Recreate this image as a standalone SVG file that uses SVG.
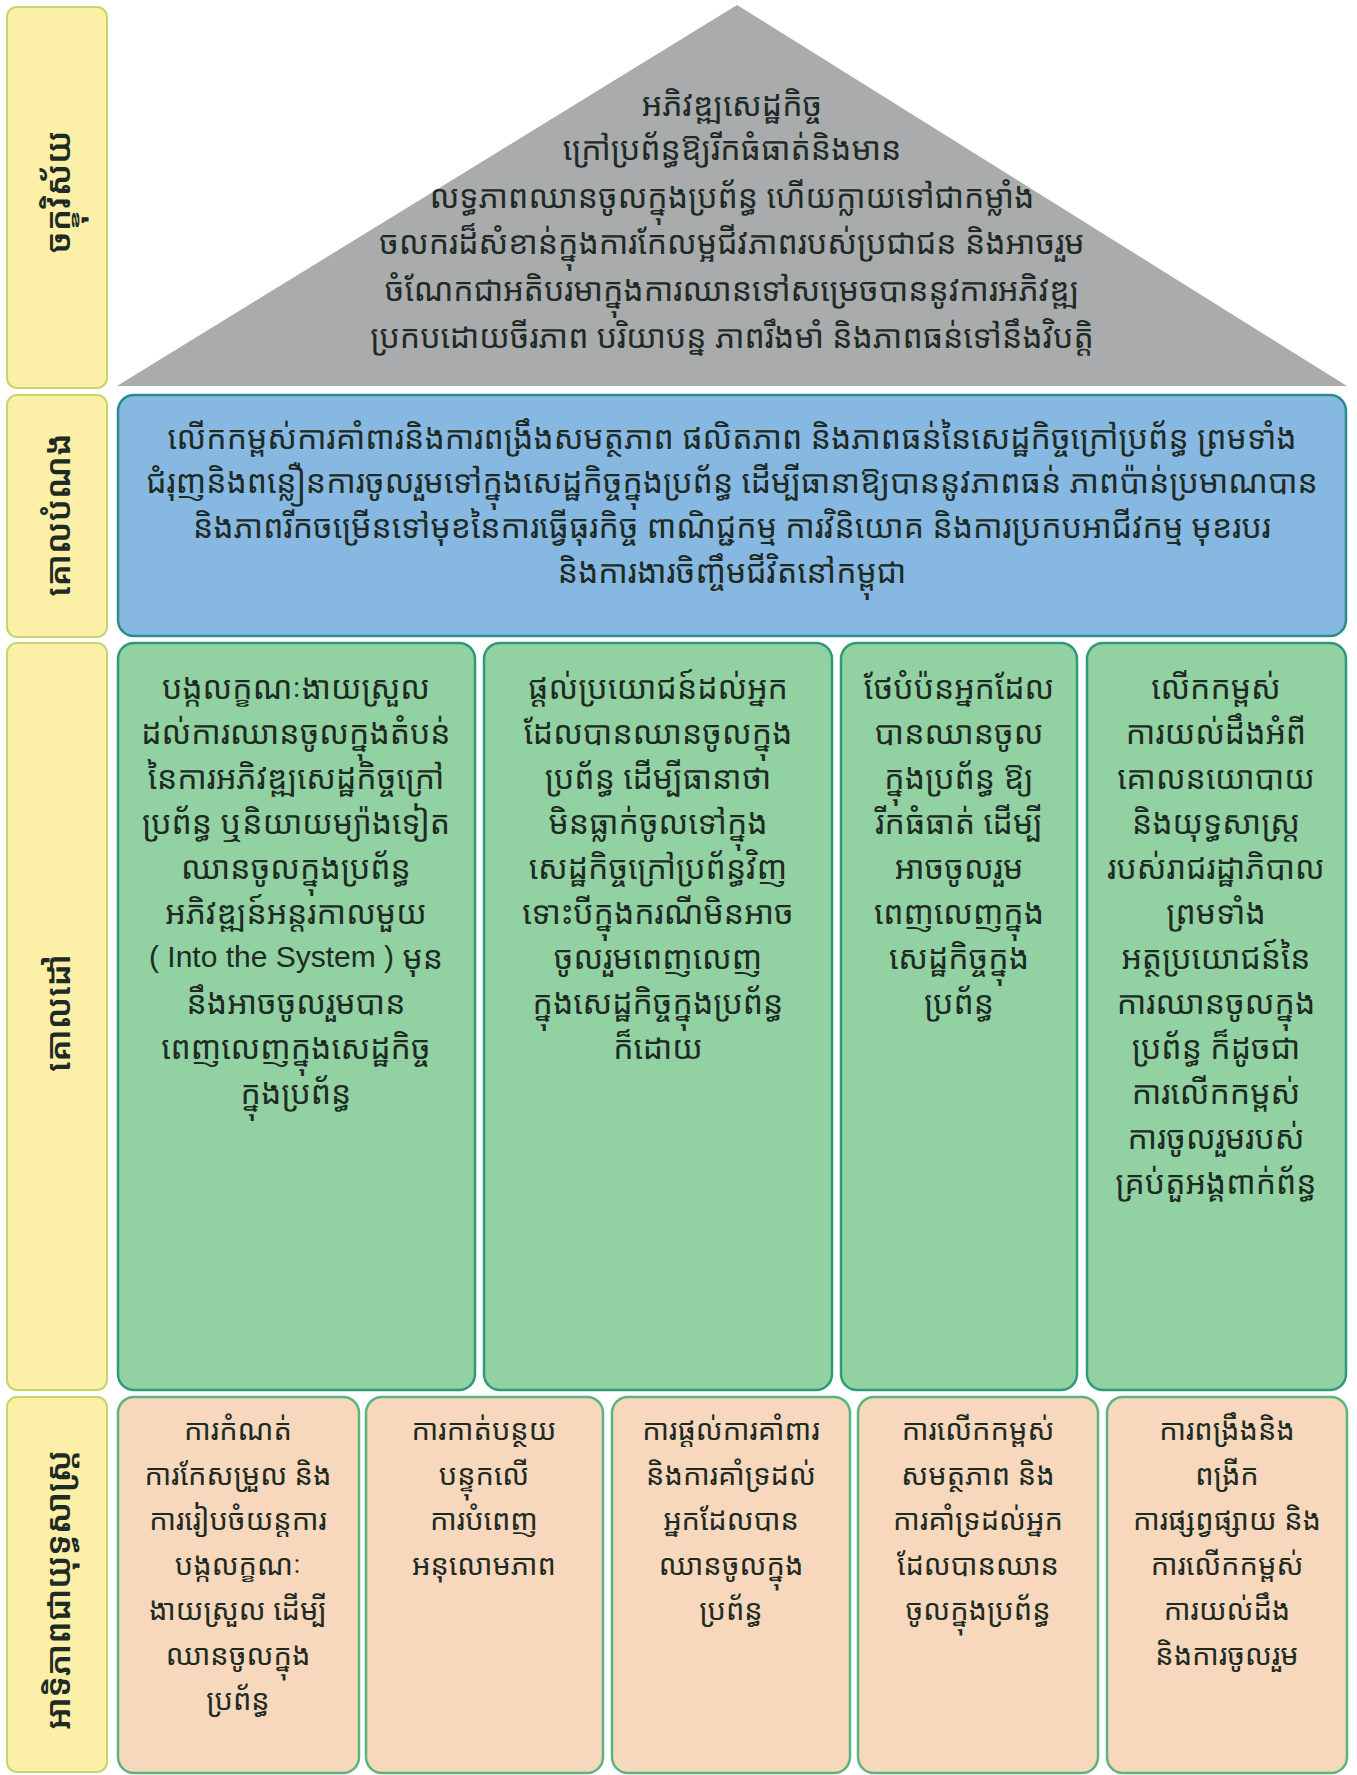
<svg xmlns="http://www.w3.org/2000/svg" width="1357" height="1775" viewBox="0 0 1357 1775">
<style>
.t{font-family:"Noto Sans Khmer","Noto Serif Khmer","Khmer OS","Khmer OS System","Noto Sans",sans-serif;fill:#1e2a24;text-anchor:middle;dominant-baseline:central}
.m{font-size:32px}
.b{font-size:32px}
.g{font-size:32px}
.o{font-size:29px}
.l{font-size:34px;font-weight:600}
.lat{font-family:"Liberation Sans",Arial,sans-serif;font-size:30px}
.lab{fill:#fcefa8;stroke:#c5d66a;stroke-width:2}
.blue{fill:#86b8e2;stroke:#2a8c8c;stroke-width:2.5}
.grn{fill:#92d2a2;stroke:#2f9a78;stroke-width:2.5}
.org{fill:#f8d8bd;stroke:#5ab47c;stroke-width:2.5}
</style>
<rect width="1357" height="1775" fill="#ffffff"/>
<g id="label-vision">
<rect class="lab" x="7" y="7" width="100" height="381" rx="10"/>
<text class="t l" transform="translate(57,192) rotate(-90)">ចក្ខុវិស័យ</text>
</g>
<g id="label-objective">
<rect class="lab" x="7" y="395" width="100" height="242" rx="10"/>
<text class="t l" transform="translate(57,515) rotate(-90)">គោលបំណង</text>
</g>
<g id="label-goals">
<rect class="lab" x="7" y="643" width="100" height="747" rx="10"/>
<text class="t l" transform="translate(57,1013) rotate(-90)">គោលដៅ</text>
</g>
<g id="label-priorities">
<rect class="lab" x="7" y="1397" width="100" height="375" rx="10"/>
<text class="t l" transform="translate(57,1590) rotate(-90)">អាទិភាពជាយុទ្ធសាស្ត្រ</text>
</g>
<g id="vision">
<polygon points="737,5 1347,386 117,386" fill="#a9abad"/>
<text class="t m" x="732" y="103">អភិវឌ្ឍសេដ្ឋកិច្ច</text>
<text class="t m" x="732" y="147">ក្រៅប្រព័ន្ធឱ្យរីកធំធាត់និងមាន</text>
<text class="t m" x="732" y="195">លទ្ធភាពឈានចូលក្នុងប្រព័ន្ធ ហើយក្លាយទៅជាកម្លាំង</text>
<text class="t m" x="732" y="241">ចលករដ៏សំខាន់ក្នុងការកែលម្អជីវភាពរបស់ប្រជាជន និងអាចរួម</text>
<text class="t m" x="732" y="288">ចំណែកជាអតិបរមាក្នុងការឈានទៅសម្រេចបាននូវការអភិវឌ្ឍ</text>
<text class="t m" x="732" y="335">ប្រកបដោយចីរភាព បរិយាបន្ន ភាពរឹងមាំ និងភាពធន់ទៅនឹងវិបត្តិ</text>
</g>
<g id="objective">
<rect class="blue" x="118" y="395" width="1228" height="241" rx="16"/>
<text class="t b" x="732" y="436">លើកកម្ពស់ការគាំពារនិងការពង្រឹងសមត្ថភាព ផលិតភាព និងភាពធន់នៃសេដ្ឋកិច្ចក្រៅប្រព័ន្ធ ព្រមទាំង</text>
<text class="t b" x="732" y="480">ជំរុញនិងពន្លឿនការចូលរួមទៅក្នុងសេដ្ឋកិច្ចក្នុងប្រព័ន្ធ ដើម្បីធានាឱ្យបាននូវភាពធន់ ភាពប៉ាន់ប្រមាណបាន</text>
<text class="t b" x="732" y="525">និងភាពរីកចម្រើនទៅមុខនៃការធ្វើធុរកិច្ច ពាណិជ្ជកម្ម ការវិនិយោគ និងការប្រកបអាជីវកម្ម មុខរបរ</text>
<text class="t b" x="732" y="570">និងការងារចិញ្ចឹមជីវិតនៅកម្ពុជា</text>
</g>
<g id="goal-1">
<rect class="grn" x="118" y="643" width="357" height="747" rx="16"/>
<text class="t g" x="296" y="686">បង្កលក្ខណៈងាយស្រួល</text>
<text class="t g" x="296" y="731">ដល់ការឈានចូលក្នុងតំបន់</text>
<text class="t g" x="296" y="776">នៃការអភិវឌ្ឍសេដ្ឋកិច្ចក្រៅ</text>
<text class="t g" x="296" y="821">ប្រព័ន្ធ ឬនិយាយម្យ៉ាងទៀត</text>
<text class="t g" x="296" y="866">ឈានចូលក្នុងប្រព័ន្ធ</text>
<text class="t g" x="296" y="911">អភិវឌ្ឍន៍អន្តរកាលមួយ</text>
<text class="t g" x="296" y="956"><tspan class="lat">( Into the System )</tspan> មុន</text>
<text class="t g" x="296" y="1001">នឹងអាចចូលរួមបាន</text>
<text class="t g" x="296" y="1046">ពេញលេញក្នុងសេដ្ឋកិច្ច</text>
<text class="t g" x="296" y="1091">ក្នុងប្រព័ន្ធ</text>
</g>
<g id="goal-2">
<rect class="grn" x="484" y="643" width="348" height="747" rx="16"/>
<text class="t g" x="658" y="686">ផ្ដល់ប្រយោជន៍ដល់អ្នក</text>
<text class="t g" x="658" y="731">ដែលបានឈានចូលក្នុង</text>
<text class="t g" x="658" y="776">ប្រព័ន្ធ ដើម្បីធានាថា</text>
<text class="t g" x="658" y="821">មិនធ្លាក់ចូលទៅក្នុង</text>
<text class="t g" x="658" y="866">សេដ្ឋកិច្ចក្រៅប្រព័ន្ធវិញ</text>
<text class="t g" x="658" y="911">ទោះបីក្នុងករណីមិនអាច</text>
<text class="t g" x="658" y="956">ចូលរួមពេញលេញ</text>
<text class="t g" x="658" y="1001">ក្នុងសេដ្ឋកិច្ចក្នុងប្រព័ន្ធ</text>
<text class="t g" x="658" y="1046">ក៏ដោយ</text>
</g>
<g id="goal-3">
<rect class="grn" x="841" y="643" width="236" height="747" rx="16"/>
<text class="t g" x="959" y="686">ថែបំប៉នអ្នកដែល</text>
<text class="t g" x="959" y="731">បានឈានចូល</text>
<text class="t g" x="959" y="776">ក្នុងប្រព័ន្ធ ឱ្យ</text>
<text class="t g" x="959" y="821">រីកធំធាត់ ដើម្បី</text>
<text class="t g" x="959" y="866">អាចចូលរួម</text>
<text class="t g" x="959" y="911">ពេញលេញក្នុង</text>
<text class="t g" x="959" y="956">សេដ្ឋកិច្ចក្នុង</text>
<text class="t g" x="959" y="1001">ប្រព័ន្ធ</text>
</g>
<g id="goal-4">
<rect class="grn" x="1087" y="643" width="259" height="747" rx="16"/>
<text class="t g" x="1216" y="686">លើកកម្ពស់</text>
<text class="t g" x="1216" y="731">ការយល់ដឹងអំពី</text>
<text class="t g" x="1216" y="776">គោលនយោបាយ</text>
<text class="t g" x="1216" y="821">និងយុទ្ធសាស្ត្រ</text>
<text class="t g" x="1216" y="866">របស់រាជរដ្ឋាភិបាល</text>
<text class="t g" x="1216" y="911">ព្រមទាំង</text>
<text class="t g" x="1216" y="956">អត្ថប្រយោជន៍នៃ</text>
<text class="t g" x="1216" y="1001">ការឈានចូលក្នុង</text>
<text class="t g" x="1216" y="1046">ប្រព័ន្ធ ក៏ដូចជា</text>
<text class="t g" x="1216" y="1091">ការលើកកម្ពស់</text>
<text class="t g" x="1216" y="1136">ការចូលរួមរបស់</text>
<text class="t g" x="1216" y="1181">គ្រប់តួអង្គពាក់ព័ន្ធ</text>
</g>
<g id="priority-1">
<rect class="org" x="118" y="1397" width="241" height="376" rx="16"/>
<text class="t o" x="238" y="1428">ការកំណត់</text>
<text class="t o" x="238" y="1473">ការកែសម្រួល និង</text>
<text class="t o" x="238" y="1518">ការរៀបចំយន្តការ</text>
<text class="t o" x="238" y="1563">បង្កលក្ខណៈ</text>
<text class="t o" x="238" y="1608">ងាយស្រួល ដើម្បី</text>
<text class="t o" x="238" y="1653">ឈានចូលក្នុង</text>
<text class="t o" x="238" y="1698">ប្រព័ន្ធ</text>
</g>
<g id="priority-2">
<rect class="org" x="366" y="1397" width="237" height="376" rx="16"/>
<text class="t o" x="484" y="1428">ការកាត់បន្ថយ</text>
<text class="t o" x="484" y="1473">បន្ទុកលើ</text>
<text class="t o" x="484" y="1518">ការបំពេញ</text>
<text class="t o" x="484" y="1563">អនុលោមភាព</text>
</g>
<g id="priority-3">
<rect class="org" x="612" y="1397" width="238" height="376" rx="16"/>
<text class="t o" x="731" y="1428">ការផ្ដល់ការគាំពារ</text>
<text class="t o" x="731" y="1473">និងការគាំទ្រដល់</text>
<text class="t o" x="731" y="1518">អ្នកដែលបាន</text>
<text class="t o" x="731" y="1563">ឈានចូលក្នុង</text>
<text class="t o" x="731" y="1608">ប្រព័ន្ធ</text>
</g>
<g id="priority-4">
<rect class="org" x="858" y="1397" width="240" height="376" rx="16"/>
<text class="t o" x="978" y="1428">ការលើកកម្ពស់</text>
<text class="t o" x="978" y="1473">សមត្ថភាព និង</text>
<text class="t o" x="978" y="1518">ការគាំទ្រដល់អ្នក</text>
<text class="t o" x="978" y="1563">ដែលបានឈាន</text>
<text class="t o" x="978" y="1608">ចូលក្នុងប្រព័ន្ធ</text>
</g>
<g id="priority-5">
<rect class="org" x="1107" y="1397" width="240" height="376" rx="16"/>
<text class="t o" x="1227" y="1428">ការពង្រឹងនិង</text>
<text class="t o" x="1227" y="1473">ពង្រីក</text>
<text class="t o" x="1227" y="1518">ការផ្សព្វផ្សាយ និង</text>
<text class="t o" x="1227" y="1563">ការលើកកម្ពស់</text>
<text class="t o" x="1227" y="1608">ការយល់ដឹង</text>
<text class="t o" x="1227" y="1653">និងការចូលរួម</text>
</g>
<g id="connectors"></g>
</svg>
